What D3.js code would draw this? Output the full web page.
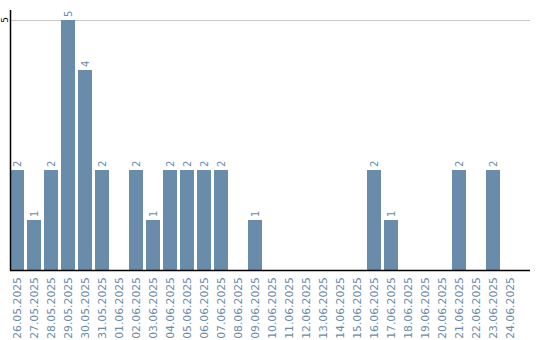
<!DOCTYPE html>
<html><head><meta charset="utf-8">
<script src="https://cdn.jsdelivr.net/npm/d3@7"></script>
<style>body{margin:0;background:#fff}svg{display:block}</style>
</head><body><svg id="c" width="540" height="340"></svg>
<script>
const dates = ["26.05.2025","27.05.2025","28.05.2025","29.05.2025","30.05.2025","31.05.2025","01.06.2025","02.06.2025","03.06.2025","04.06.2025","05.06.2025","06.06.2025","07.06.2025","08.06.2025","09.06.2025","10.06.2025","11.06.2025","12.06.2025","13.06.2025","14.06.2025","15.06.2025","16.06.2025","17.06.2025","18.06.2025","19.06.2025","20.06.2025","21.06.2025","22.06.2025","23.06.2025","24.06.2025"];
const counts = [2,1,2,5,4,2,0,2,1,2,2,2,2,0,1,0,0,0,0,0,0,2,1,0,0,0,2,0,2,0];
const yTicks = [5];

const svg = d3.select("#c");
const font = "DejaVu Sans, Verdana, sans-serif";
const barColor = "#6a8cab";
const x = d3.scaleBand().domain(dates).range([10, 517]).paddingInner(3/17).paddingOuter(0);
const y = d3.scaleLinear().domain([0, 5]).range([270, 20]);

// gridline
svg.append("g").selectAll("line").data(yTicks).join("line")
  .attr("x1", 10).attr("x2", 530).attr("y1", d => y(d)).attr("y2", d => y(d))
  .attr("stroke", "#c8c8c8").attr("stroke-width", 1).attr("shape-rendering","crispEdges");

// bars
svg.append("g").selectAll("rect").data(dates).join("rect")
  .attr("x", d => x(d)).attr("width", x.bandwidth())
  .attr("y", (d,i) => y(counts[i])).attr("height", (d,i) => y(0) - y(counts[i]))
  .attr("fill", barColor).attr("shape-rendering","crispEdges");

// value labels
svg.append("g").selectAll("text").data(dates.filter((d,i)=>counts[i]>0)).join("text")
  .attr("transform", d => { const v = counts[dates.indexOf(d)]; return `translate(${x(d)+x.bandwidth()/2+3.5},${y(v)-3}) rotate(-90)`; })
  .attr("text-anchor","start").attr("font-family", font).attr("font-size", 10)
  .attr("fill", barColor).text(d => counts[dates.indexOf(d)]);

// y axis
svg.append("line").attr("x1",10.5).attr("x2",10.5).attr("y1",10).attr("y2",270).attr("stroke","#000").attr("stroke-width",1.5);
svg.append("g").selectAll("text").data(yTicks).join("text")
  .attr("transform", d => `translate(8,${y(d)}) rotate(-90)`)
  .attr("text-anchor","middle").attr("font-family", font).attr("font-size", 9).attr("fill","#000").text(d=>d);

// x axis
svg.append("line").attr("x1",10).attr("x2",530).attr("y1",270.5).attr("y2",270.5).attr("stroke","#000").attr("stroke-width",1.5);
svg.append("g").selectAll("text").data(dates).join("text")
  .attr("transform", d => `translate(${x(d)+x.bandwidth()/2+3.5},277) rotate(-90)`)
  .attr("text-anchor","end").attr("font-family", font).attr("font-size", 10.8)
  .attr("fill", barColor).text(d=>d);
</script></body></html>
